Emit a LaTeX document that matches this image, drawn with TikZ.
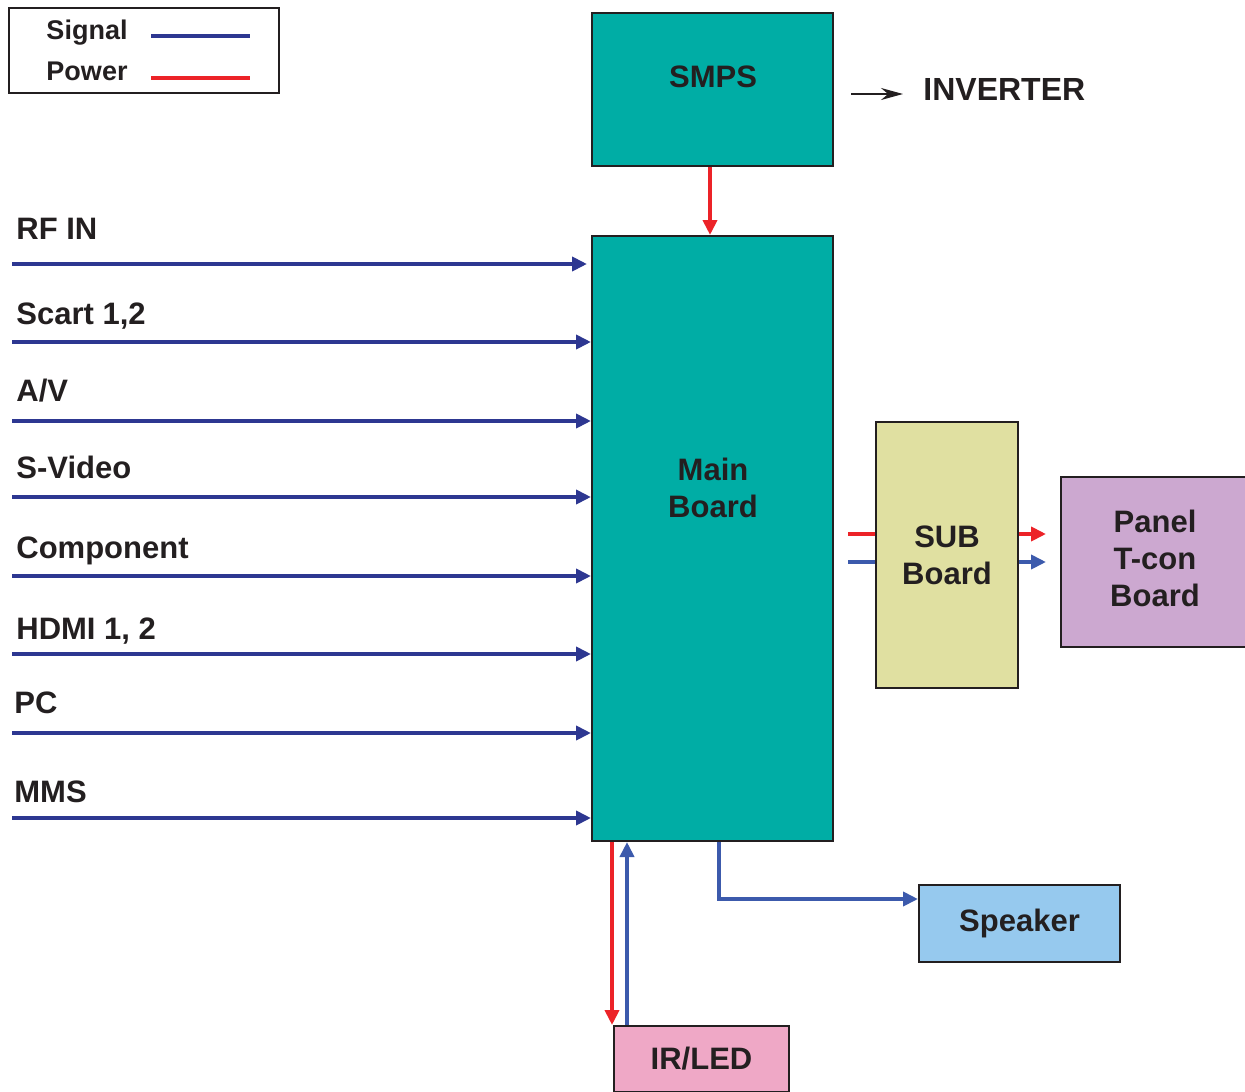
\documentclass[tikz,border=0pt]{standalone}
\usepackage{fontspec}
\setmainfont{Liberation Sans}
\usepackage{tikz}
\usetikzlibrary{arrows.meta}

\definecolor{inkblack}{RGB}{35,31,32}
\definecolor{boardteal}{RGB}{0,173,165}
\definecolor{subfill}{RGB}{224,224,161}
\definecolor{panelfill}{RGB}{204,168,208}
\definecolor{spkfill}{RGB}{150,201,238}
\definecolor{irfill}{RGB}{239,168,198}
\definecolor{sigdark}{RGB}{45,55,145}
\definecolor{sigblue}{RGB}{60,90,172}
\definecolor{pwrred}{RGB}{236,35,40}

\begin{document}
\begin{tikzpicture}[
  x=0.5pt,y=-0.5pt,
  font=\bfseries\fontsize{15.5}{18.5}\selectfont,text=inkblack,
  box/.style={draw=inkblack,line width=1pt,inner sep=0pt,align=center},
  lbl/.style={anchor=base west,inner sep=0pt},
  tip/.style={-{Triangle[length=7.5pt,width=7pt]}},
  sig/.style={draw=sigdark,line width=2pt,tip},
  sigb/.style={draw=sigblue,line width=2pt},
  pwr/.style={draw=pwrred,line width=2pt}
]
\useasboundingbox (0,0) rectangle (1245,1091);

% legend
\node[draw=inkblack,line width=0.75pt,minimum width=135pt,minimum height=42.5pt] (key) at (144,50.5) {};
\node[font=\bfseries\fontsize{13.5}{16}\selectfont] (sigkey) at (87,33) {Signal};
\node[font=\bfseries\fontsize{13.5}{16}\selectfont] (pwrkey) at (87,71) {Power};
\draw[sigdark,line width=2pt] (151,36) -- (250,36);
\draw[pwrred,line width=2pt] (151,78) -- (250,78);

% boards
\node[box,fill=boardteal,minimum width=120.5pt,minimum height=76.5pt] (smps) at (712.5,89.5) {};
\node (smpstxt) at (713,77) {SMPS};
\node[box,fill=boardteal,minimum width=120.5pt,minimum height=302.5pt] (main) at (712.5,538.5) {};
\node[align=center] (maintxt) at (713,488) {Main\\Board};
\node[box,fill=subfill,minimum width=71pt,minimum height=133pt] (sub) at (947,555) {SUB\\Board};
\node[box,fill=panelfill,minimum width=95pt,minimum height=85pt] (panel) at (1156,562) {};
\node[align=center] (paneltxt) at (1155,558) {Panel\\T-con\\Board};
\node[box,fill=spkfill,minimum width=100.5pt,minimum height=38.5pt] (speaker) at (1019.5,923.5) {Speaker};
\node[box,fill=irfill,minimum width=87.5pt,minimum height=33pt] (irled) at (701.5,1059) {IR/LED};

% inverter
\node[anchor=west,inner sep=0pt,font=\bfseries\fontsize{16}{19}\selectfont] (inverter) at (923,89) {INVERTER};
\coordinate (invfrom) at (851,94);
\draw[inkblack,line width=1pt,-{Stealth[length=11pt,width=6pt]},shorten >=10pt] (invfrom) -- (invfrom -| inverter.west);

% inputs
\coordinate (rf) at (12,264);
\coordinate (scart) at (12,342);
\coordinate (av) at (12,421);
\coordinate (svid) at (12,497);
\coordinate (comp) at (12,576);
\coordinate (hdmi) at (12,654);
\coordinate (pc) at (12,733);
\coordinate (mms) at (12,818);
\node[lbl] (rftxt) at (16,239) {RF IN};
\node[lbl] (scarttxt) at (16,324) {Scart 1,2};
\node[lbl] (avtxt) at (16,401) {A/V};
\node[lbl] (svidtxt) at (16,478) {S-Video};
\node[lbl] (comptxt) at (16,558) {Component};
\node[lbl] (hdmitxt) at (16,639) {HDMI 1, 2};
\node[lbl] (pctxt) at (14,713) {PC};
\node[lbl] (mmstxt) at (14,802) {MMS};
\draw[sig,shorten >=2pt] (rf) -- (rf -| main.west);
\draw[sig] (scart) -- (scart -| main.west);
\draw[sig] (av) -- (av -| main.west);
\draw[sig] (svid) -- (svid -| main.west);
\draw[sig] (comp) -- (comp -| main.west);
\draw[sig] (hdmi) -- (hdmi -| main.west);
\draw[sig] (pc) -- (pc -| main.west);
\draw[sig] (mms) -- (mms -| main.west);

% power and signal paths
\draw[pwr,tip] ([xshift=-1.25pt]smps.south) -- ([xshift=-1.25pt]main.north);
\coordinate (subinp) at (848,534);
\coordinate (subins) at (848,562);
\coordinate (suboutp) at (1046,534);
\coordinate (subouts) at (1046,562);
\draw[pwr] (subinp) -- (subinp -| sub.west);
\draw[sigb] (subins) -- (subins -| sub.west);
\draw[pwr,tip] (suboutp -| sub.east) -- (suboutp);
\draw[sigb,tip] (subouts -| sub.east) -- (subouts);
\draw[sigb,tip] ([xshift=3.25pt]main.south) |- ([yshift=12.25pt]speaker.west);
\draw[pwr,tip] ([xshift=-0.5pt]irled.north west |- main.south) -- ([xshift=-0.5pt]irled.north west);
\draw[sigb,tip] ([xshift=7pt]irled.north west) -- ([xshift=7pt]irled.north west |- main.south);
\end{tikzpicture}
\end{document}
